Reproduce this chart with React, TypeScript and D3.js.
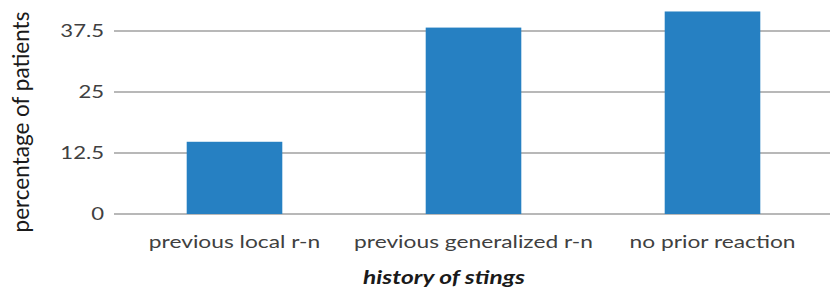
import React, { useEffect, useRef } from 'react';
import * as d3 from 'd3';

const categories = ['previous local r-n', 'previous generalized r-n', 'no prior reaction'];
const values = [14.8, 38.2, 41.5];
const yTicks = [0, 12.5, 25, 37.5];

const App: React.FC = () => {
  const svgRef = useRef<SVGSVGElement | null>(null);

  useEffect(() => {
    if (!svgRef.current) return;
    const svg = d3.select(svgRef.current);
    svg.selectAll('*').remove();

    const width = 830;
    const height = 294;
    const font = 'Lato, "Open Sans", sans-serif';
    const sx = 1.3; // the source image is stretched horizontally

    const x = d3.scaleBand<string>()
      .domain(categories)
      .range([115, 832])
      .paddingInner(0.6)
      .paddingOuter(0.3);

    const y = d3.scaleLinear()
      .domain([0, 37.5])
      .range([214, 31]);

    // gridlines
    svg.append('g')
      .selectAll('line')
      .data(yTicks)
      .join('line')
      .attr('x1', 114)
      .attr('x2', width)
      .attr('y1', d => y(d))
      .attr('y2', d => y(d))
      .attr('stroke', '#a0a0a0')
      .attr('stroke-width', 1.5);

    // bars
    svg.append('g')
      .selectAll('rect')
      .data(categories)
      .join('rect')
      .attr('x', d => x(d) || 0)
      .attr('width', x.bandwidth())
      .attr('y', (d, i) => y(values[i]))
      .attr('height', (d, i) => y(0) - y(values[i]))
      .attr('fill', '#2680c2');

    // y tick labels
    svg.append('g')
      .selectAll('text')
      .data(yTicks)
      .join('text')
      .attr('transform', d => `translate(104,${y(d)}) scale(${sx},1)`)
      .attr('dy', '0.35em')
      .attr('text-anchor', 'end')
      .attr('font-family', font)
      .attr('font-size', 17)
      .attr('fill', '#404040')
      .text(d => String(d));

    // x category labels
    svg.append('g')
      .selectAll('text')
      .data(categories)
      .join('text')
      .attr('transform', d => `translate(${(x(d) || 0) + x.bandwidth() / 2},248) scale(${sx},1)`)
      .attr('text-anchor', 'middle')
      .attr('font-family', font)
      .attr('font-size', 17.5)
      .attr('fill', '#404040')
      .text(d => d);

    // axis titles
    svg.append('text')
      .attr('transform', 'translate(29,122) rotate(-90)')
      .attr('text-anchor', 'middle')
      .attr('font-family', font)
      .attr('font-size', 22.5)
      .attr('fill', '#1a1a1a')
      .text('percentage of patients');

    svg.append('text')
      .attr('transform', `translate(444,284) scale(1.36,1)`)
      .attr('text-anchor', 'middle')
      .attr('font-family', font)
      .attr('font-size', 18)
      .attr('font-weight', 'bold')
      .attr('font-style', 'italic')
      .attr('fill', '#1a1a1a')
      .text('history of stings');

    svg.attr('width', width).attr('height', height);
  }, []);

  return (
    <svg ref={svgRef} width="830" height="294" style={{ position: 'absolute', left: 0, top: 0, background: '#fff' }}></svg>
  );
};

export default App;
